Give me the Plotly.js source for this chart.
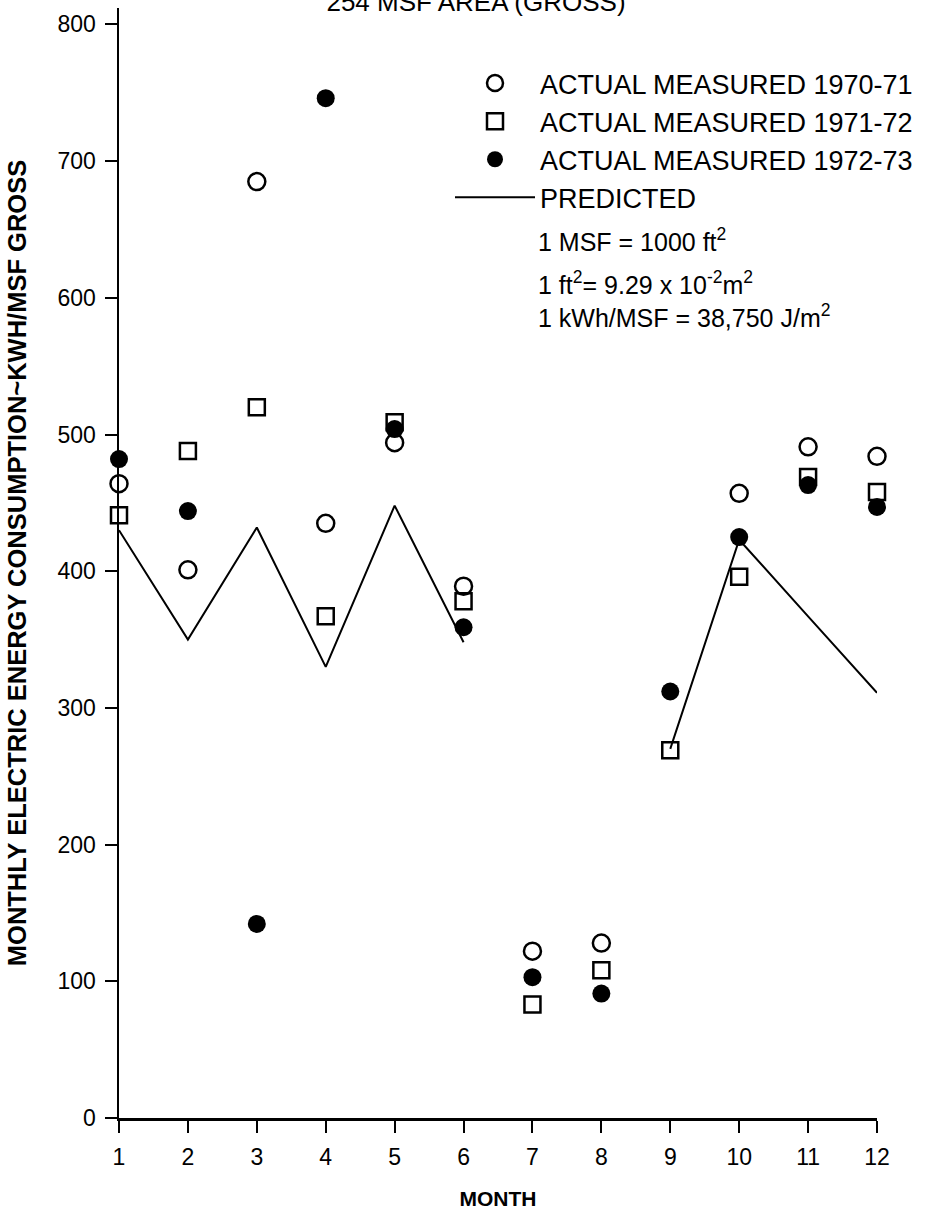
<!DOCTYPE html>
<html>
<head>
<meta charset="utf-8">
<script src="https://cdn.plot.ly/plotly-3.0.1.min.js"></script>
<style>html,body{margin:0;padding:0;background:#fff;}</style>
</head>
<body>
<div id="chart" style="width:942px;height:1214px;"></div>
<script>
// Data
const months = [1, 2, 3, 4, 5, 6, 7, 8, 9, 10, 11, 12];
const measured1970_71 = [464, 401, 685, 435, 494, 389, 122, 128, null, 457, 491, 484];
const measured1971_72 = [441, 488, 520, 367, 509, 378, 83, 108, 269, 396, 469, 458];
const measured1972_73 = [482, 444, 142, 746, 504, 359, 103, 91, 312, 425, 463, 447];
const predicted = [430, 350, 432, 330, 448, 348, null, null, 270, 423, 367, 311];
const seriesNames = ["ACTUAL MEASURED 1970-71", "ACTUAL MEASURED 1971-72", "ACTUAL MEASURED 1972-73", "PREDICTED"];
const yTicks = [0, 100, 200, 300, 400, 500, 600, 700, 800];
const xTickLabels = ["1", "2", "3", "4", "5", "6", "7", "8", "9", "10", "11", "12"];
const notes = [
  "1 MSF = 1000 ft<sup>2</sup>",
  "1 ft<sup>2</sup>= 9.29 x 10<sup>-2</sup>m<sup>2</sup>",
  "1 kWh/MSF = 38,750 J/m<sup>2</sup>"
];

const FONT = "Liberation Sans, Arial, Helvetica, sans-serif";

const traces = [
  {x: months, y: measured1970_71, name: seriesNames[0], type: "scatter", mode: "markers",
   cliponaxis: false,
   marker: {symbol: "circle-open", size: 17, color: "#000", line: {width: 2.5, color: "#000"}}},
  {x: months, y: measured1971_72, name: seriesNames[1], type: "scatter", mode: "markers",
   cliponaxis: false,
   marker: {symbol: "square-open", size: 16, color: "#000", line: {width: 2.5, color: "#000"}}},
  {x: months, y: measured1972_73, name: seriesNames[2], type: "scatter", mode: "markers",
   cliponaxis: false,
   marker: {symbol: "circle", size: 18, color: "#000", line: {width: 0}}},
  {x: months, y: predicted, name: seriesNames[3], type: "scatter", mode: "lines",
   connectgaps: false, cliponaxis: false,
   line: {color: "#000", width: 2}}
];

const noteY = [240, 283, 316];
const annotations = notes.map((t, i) => ({
  text: t, xref: "paper", yref: "paper",
  x: (536 - 119) / 758, y: 1 - (noteY[i] - 8) / 1110,
  xanchor: "left", yanchor: "middle", showarrow: false,
  font: {family: FONT, size: 25, color: "#000"}
}));

const layout = {
  width: 942, height: 1214,
  margin: {l: 119, r: 65, t: 8, b: 96},
  paper_bgcolor: "#fff", plot_bgcolor: "#fff",
  title: {text: "254 MSF AREA (GROSS)", x: 476 / 942, xanchor: "center",
          y: 1 - 2 / 1214, yanchor: "middle", yref: "container",
          font: {family: FONT, size: 26, color: "#000"}},
  showlegend: true,
  legend: {x: (450 - 119) / 758, y: 1 - (59 - 8) / 1110, xanchor: "left", yanchor: "top",
           bgcolor: "rgba(0,0,0,0)", borderwidth: 0, itemwidth: 80, tracegroupgap: 0,
           font: {family: FONT, size: 27, color: "#000"}},
  xaxis: {range: [1, 12], tickvals: months, ticktext: xTickLabels,
          showline: true, linecolor: "#000", linewidth: 2.5, mirror: false,
          ticks: "outside", ticklen: 12, tickwidth: 2, tickcolor: "#000",
          ticklabelstandoff: 5,
          showgrid: false, zeroline: false,
          tickfont: {family: FONT, size: 23, color: "#000"},
          title: {text: "<b>MONTH</b>", standoff: 22, font: {family: FONT, size: 21, color: "#000"}}},
  yaxis: {range: [0, 812], tickvals: yTicks,
          showline: true, linecolor: "#000", linewidth: 2.5,
          ticks: "outside", ticklen: 12, tickwidth: 2, tickcolor: "#000",
          ticklabelstandoff: 4,
          showgrid: false, zeroline: false,
          tickfont: {family: FONT, size: 23, color: "#000"},
          title: {text: "<b>MONTHLY ELECTRIC ENERGY CONSUMPTION~KWH/MSF GROSS</b>", standoff: 24,
                  font: {family: FONT, size: 25.5, color: "#000"}}},
  annotations: annotations
};

Plotly.newPlot("chart", traces, layout, {displayModeBar: false, staticPlot: true});
</script>
</body>
</html>
